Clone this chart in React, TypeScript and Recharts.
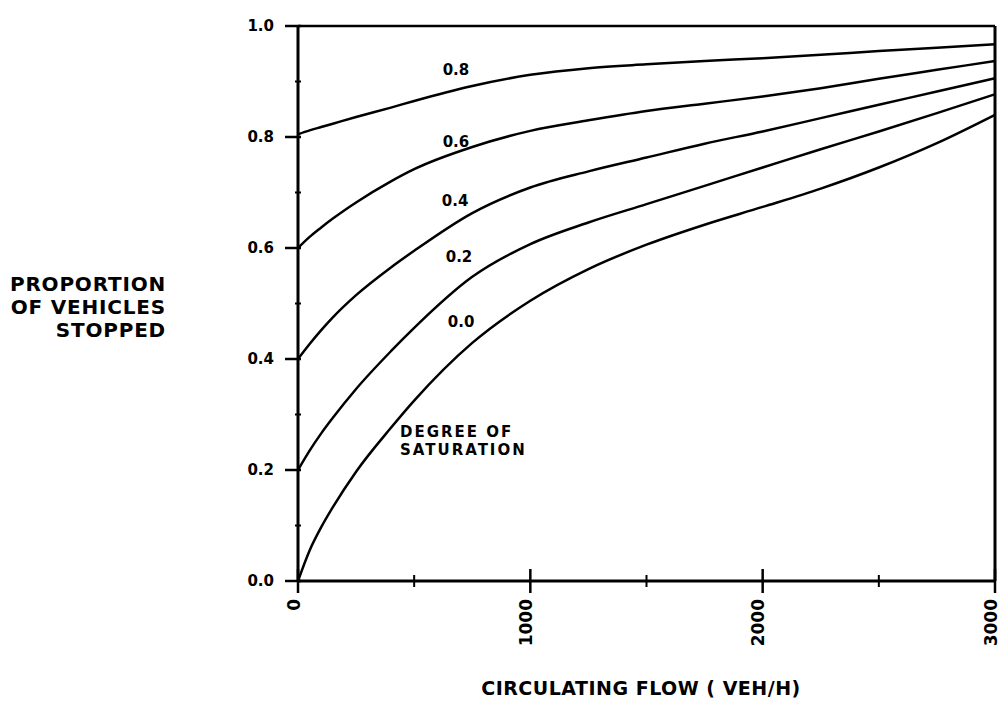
import React from 'react';
import { LineChart, Line, XAxis, YAxis, ReferenceLine, ReferenceDot, Label } from 'recharts';

const flows = [0, 50, 100, 150, 250, 400, 500, 750, 1000, 1250, 1500, 1750, 2000, 2250, 2500, 2750, 3000];
const ds00 = [0, 0.055, 0.097, 0.133, 0.197, 0.276, 0.325, 0.429, 0.505, 0.562, 0.606, 0.642, 0.674, 0.707, 0.745, 0.789, 0.84];
const ds02 = [0.2, 0.235, 0.266, 0.294, 0.346, 0.414, 0.456, 0.548, 0.607, 0.646, 0.679, 0.712, 0.745, 0.778, 0.81, 0.843, 0.877];
const ds04 = [0.4, 0.427, 0.452, 0.475, 0.515, 0.565, 0.595, 0.663, 0.709, 0.738, 0.763, 0.788, 0.81, 0.834, 0.858, 0.882, 0.906];
const ds06 = [0.6, 0.62, 0.637, 0.653, 0.682, 0.72, 0.742, 0.782, 0.811, 0.83, 0.847, 0.86, 0.873, 0.888, 0.905, 0.921, 0.937];
const ds08 = [0.805, 0.812, 0.818, 0.824, 0.836, 0.853, 0.865, 0.892, 0.912, 0.924, 0.931, 0.937, 0.942, 0.948, 0.955, 0.961, 0.967];

const seriesKeys = ['s00', 's02', 's04', 's06', 's08'];
const seriesValues = [ds00, ds02, ds04, ds06, ds08];

const xTicks = [0, 500, 1000, 1500, 2000, 2500, 3000];
const xLabelled = [0, 1000, 2000, 3000];
const yTicks = [0, 0.1, 0.2, 0.3, 0.4, 0.5, 0.6, 0.7, 0.8, 0.9, 1.0];
const yLabelled = ['0.0', '0.2', '0.4', '0.6', '0.8', '1.0'];

const curveLabels = [
  { x: 680, y: 0.921, text: '0.8' },
  { x: 680, y: 0.791, text: '0.6' },
  { x: 676, y: 0.686, text: '0.4' },
  { x: 693, y: 0.584, text: '0.2' },
  { x: 702, y: 0.467, text: '0.0' },
];
const noteLines = [
  { x: 439, y: 0.27, text: 'DEGREE OF' },
  { x: 439, y: 0.236, text: 'SATURATION' },
];
const yTitle = ['PROPORTION', 'OF VEHICLES', 'STOPPED'];
const xTitle = 'CIRCULATING FLOW ( VEH/H)';

const data = flows.map((f, i) => {
  const row: any = { flow: f };
  seriesKeys.forEach((k, j) => { row[k] = seriesValues[j][i]; });
  return row;
});

const FONT = '"DejaVu Sans", sans-serif';

const YTick = (props: any) => {
  const { x, y, payload } = props;
  const label = Number(payload.value).toFixed(1);
  const major = yLabelled.includes(label);
  return (
    <g>
      {major ? (
        <>
          <line x1={x - 13} x2={x + 3} y1={y} y2={y} stroke="#000" strokeWidth={2.5} />
          <text x={x - 24} y={y} dy="0.36em" textAnchor="end" fontFamily={FONT} fontWeight="bold" fontSize={15} fill="#000">{label}</text>
        </>
      ) : (
        <line x1={x - 3} x2={x + 3} y1={y} y2={y} stroke="#000" strokeWidth={2} />
      )}
    </g>
  );
};

const XTick = (props: any) => {
  const { x, y, payload } = props;
  const major = xLabelled.includes(payload.value);
  return (
    <g>
      {major ? (
        <>
          <line x1={x} x2={x} y1={y - 12} y2={y + 12} stroke="#000" strokeWidth={2.5} />
          <text x={x} y={y + 18} dy="0.1em" textAnchor="end" transform={`rotate(-90, ${x}, ${y + 18})`} fontFamily={FONT} fontWeight="bold" fontSize={17} fill="#000">{payload.value}</text>
        </>
      ) : (
        <line x1={x} x2={x} y1={y - 6} y2={y + 6} stroke="#000" strokeWidth={2} />
      )}
    </g>
  );
};

export default function App() {
  return (
    <div style={{ position: 'absolute', left: 0, top: 0, width: 1002, height: 706, background: '#fff' }}>
      <LineChart width={1002} height={706} data={data} margin={{ top: 26, right: 7, left: 238, bottom: 65 }}>
        <XAxis
          dataKey="flow"
          type="number"
          domain={[0, 3000]}
          ticks={xTicks}
          tick={<XTick />}
          tickSize={0}
          tickMargin={0}
          tickLine={false}
          axisLine={{ stroke: '#000', strokeWidth: 3 }}
          height={60}
          interval={0}
        >
          <Label
            content={() => (
              <text x={641} y={688} textAnchor="middle" dy="0.36em" fontFamily={FONT} fontWeight="bold" fontSize={19} letterSpacing={0.5} fill="#000">{xTitle}</text>
            )}
          />
        </XAxis>
        <YAxis
          type="number"
          domain={[0, 1]}
          ticks={yTicks}
          tick={<YTick />}
          tickSize={0}
          tickMargin={0}
          tickLine={false}
          axisLine={{ stroke: '#000', strokeWidth: 3 }}
          width={60}
          interval={0}
        >
          <Label
            content={() => (
              <text textAnchor="end" fontFamily={FONT} fontWeight="bold" fontSize={20} letterSpacing={0.8} fill="#000">
                {yTitle.map((t, i) => (
                  <tspan key={t} x={166} y={284 + i * 23} dy="0.36em">{t}</tspan>
                ))}
              </text>
            )}
          />
        </YAxis>
        <ReferenceLine y={1} stroke="#000" strokeWidth={2.5} ifOverflow="visible" />
        <ReferenceLine x={3000} stroke="#000" strokeWidth={3} ifOverflow="visible" />
        {seriesKeys.map((k) => (
          <Line key={k} dataKey={k} type="monotone" stroke="#000" strokeWidth={2.5} dot={false} isAnimationActive={false} />
        ))}
        {curveLabels.map((c) => (
          <ReferenceDot
            key={c.text}
            x={c.x}
            y={c.y}
            r={0}
            ifOverflow="visible"
            shape={(p: any) => (
              <text x={p.cx} y={p.cy} dy="0.36em" textAnchor="middle" fontFamily={FONT} fontWeight="bold" fontSize={15} fill="#000">{c.text}</text>
            )}
          />
        ))}
        {noteLines.map((c) => (
          <ReferenceDot
            key={c.text}
            x={c.x}
            y={c.y}
            r={0}
            ifOverflow="visible"
            shape={(p: any) => (
              <text x={p.cx} y={p.cy} dy="0.36em" textAnchor="start" fontFamily={FONT} fontWeight="bold" fontSize={15} letterSpacing={2} fill="#000">{c.text}</text>
            )}
          />
        ))}
      </LineChart>
    </div>
  );
}
